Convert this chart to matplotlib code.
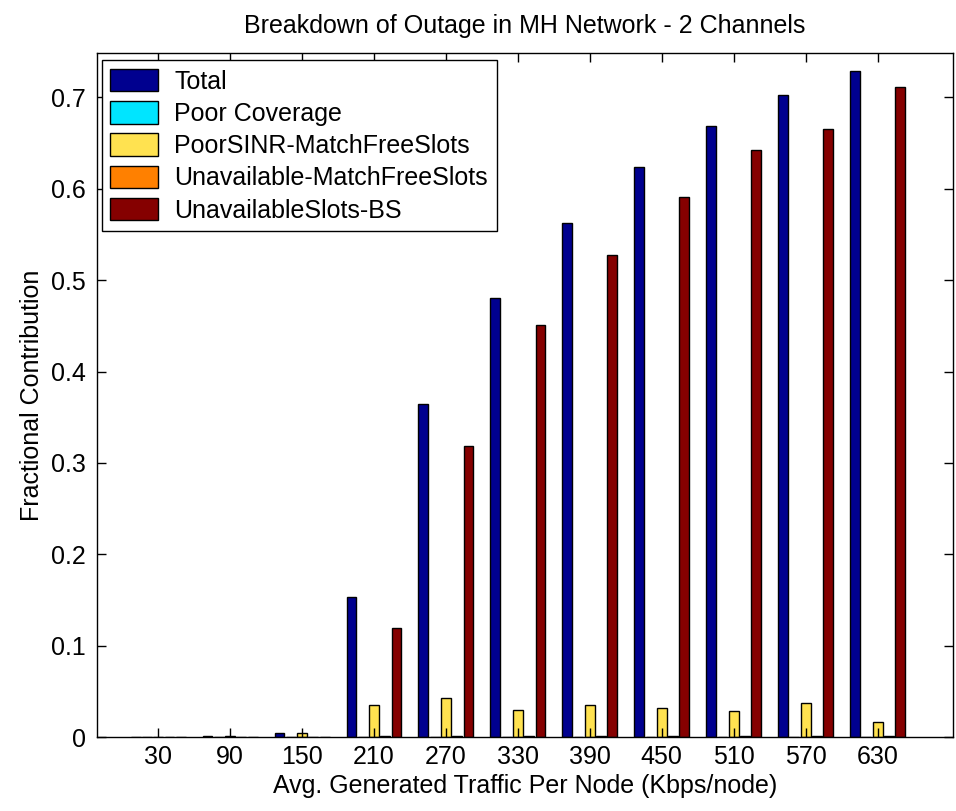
import numpy as np
import matplotlib
matplotlib.use("Agg")
import matplotlib.pyplot as plt

plt.rcParams['font.family'] = ['Liberation Sans', 'DejaVu Sans']

traffic = [30, 90, 150, 210, 270, 330, 390, 450, 510, 570, 630]
series_names = ['Total', 'Poor Coverage', 'PoorSINR-MatchFreeSlots',
                'Unavailable-MatchFreeSlots', 'UnavailableSlots-BS']
total = [0.0, 0.001, 0.004, 0.153, 0.364, 0.480, 0.563, 0.624, 0.669, 0.703, 0.729]
poor_coverage = [0.0, 0.0, 0.0, 0.0, 0.0, 0.0, 0.0, 0.0, 0.0, 0.0, 0.0]
poor_sinr = [0.0, 0.001, 0.004, 0.035, 0.043, 0.030, 0.035, 0.032, 0.028, 0.037, 0.017]
unavail_match = [0.0, 0.0005, 0.0, 0.0015, 0.0015, 0.0015, 0.0015, 0.0015, 0.0015, 0.0015, 0.0015]
unavail_bs = [0.0, 0.0, 0.0, 0.119, 0.318, 0.451, 0.528, 0.591, 0.642, 0.665, 0.711]
colors = ['#00008F', '#00E5FF', '#FFE250', '#FF8000', '#850000']


def main():
    fig = plt.figure(figsize=(9.56, 8.11), dpi=100)
    ax = fig.add_axes([0.1015, 0.0912, 0.8955, 0.8438])

    data = [total, poor_coverage, poor_sinr, unavail_match, unavail_bs]
    x = np.array(traffic, dtype=float)
    step = 9.4
    for i, (vals, name, c) in enumerate(zip(data, series_names, colors)):
        ax.bar(x + (i - 2) * step, vals, width=8.2, color=c, edgecolor='black',
               linewidth=1.0, label=name)

    fs = 18
    ax.set_xlim(-21, 693)
    ax.set_ylim(0, 0.749)
    ax.set_xticks(traffic)
    ax.set_yticks([0, 0.1, 0.2, 0.3, 0.4, 0.5, 0.6, 0.7])
    ax.set_yticklabels(['0', '0.1', '0.2', '0.3', '0.4', '0.5', '0.6', '0.7'])
    ax.tick_params(direction='in', top=True, right=True, labelsize=fs, length=6.5, width=1)
    ax.tick_params(axis='x', pad=6)
    ax.tick_params(axis='y', pad=8)
    for s in ax.spines.values():
        s.set_linewidth(1.0)

    ax.set_title('Breakdown of Outage in MH Network - 2 Channels', fontsize=fs, pad=14)
    ax.set_xlabel('Avg. Generated Traffic Per Node (Kbps/node)', fontsize=fs, labelpad=3)
    ax.set_ylabel('Fractional Contribution', fontsize=fs, labelpad=5)

    leg = ax.legend(loc='upper left', bbox_to_anchor=(0.0055, 0.989), borderaxespad=0,
                    fontsize=fs, fancybox=False, framealpha=1, edgecolor='black',
                    handlelength=1.9, handleheight=1.0, labelspacing=0.3,
                    borderpad=0.35, handletextpad=0.65)
    leg.get_frame().set_linewidth(1.0)

    fig.savefig('out.png')


if __name__ == "__main__":
    main()
